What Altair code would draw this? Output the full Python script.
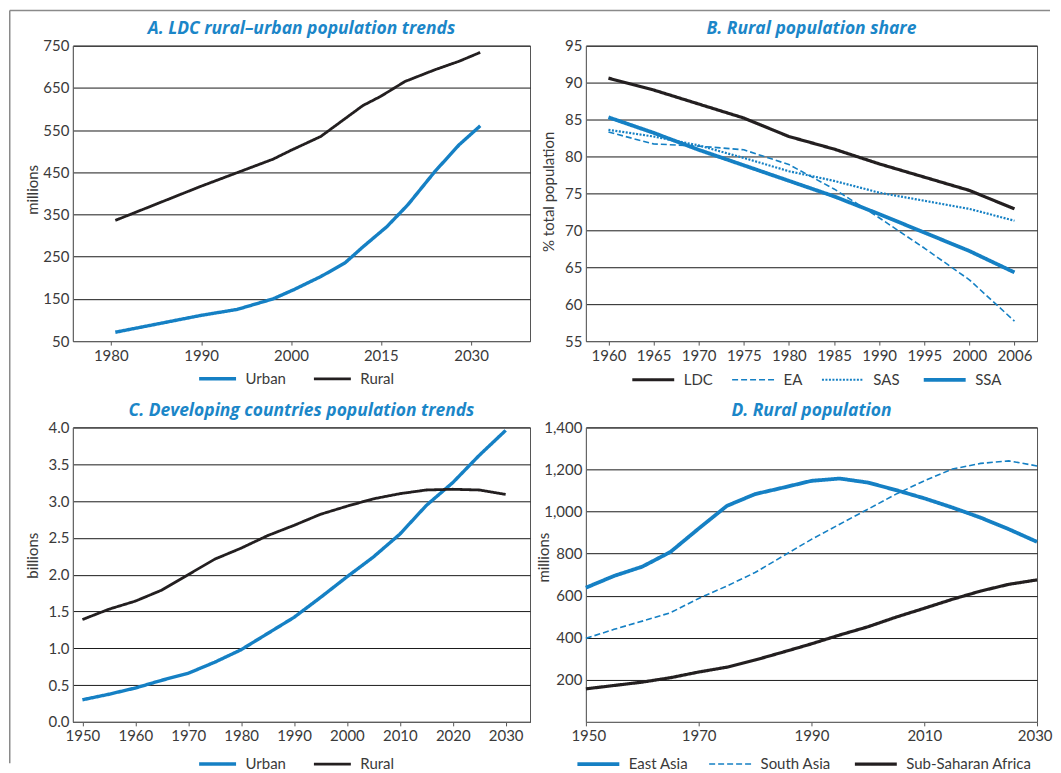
import altair as alt
import pandas as pd

BLUE = "#1580c4"
BLACK = "#231f20"
TITLE_BLUE = "#1b86c8"
TEXT = "#3a3a3a"

# ---------------- Panel A: LDC rural-urban population trends (millions)
A_URBAN_YEARS = [1980.5, 1990, 1994, 1998, 2000.5, 2005, 2009, 2012, 2016, 2019.5, 2024, 2028, 2031.5]
A_URBAN = [71, 111, 125, 150, 172, 203, 235, 273, 321, 373, 452, 515, 560]
A_RURAL_YEARS = [1980.5, 1990, 1998, 2000, 2005, 2012, 2015, 2019, 2024, 2028, 2031.5]
A_RURAL = [336, 417, 481, 502, 535, 608, 630, 665, 693, 713, 734]
A_SERIES = ["Urban", "Rural"]
A_X_TICKS = [1980, 1990, 2000, 2015, 2030]
A_Y_TICKS = [50, 150, 250, 350, 450, 550, 650, 750]

# ---------------- Panel B: Rural population share (% of total population)
B_YEARS = ["1960", "1965", "1970", "1975", "1980", "1985", "1990", "1995", "2000", "2006"]
B_LDC = [90.6, 89.0, 87.1, 85.2, 82.7, 81.0, 79.0, 77.2, 75.4, 72.9]
B_EA = [83.3, 81.7, 81.4, 80.9, 78.9, 75.6, 71.7, 67.6, 63.3, 57.7]
B_SAS = [83.6, 82.7, 81.5, 79.8, 78.0, 76.7, 75.1, 74.0, 72.9, 71.3]
B_SSA = [85.3, 83.2, 80.9, 78.8, 76.7, 74.6, 72.2, 69.7, 67.2, 64.3]
B_SERIES = ["LDC", "EA", "SAS", "SSA"]
B_Y_TICKS = [55, 60, 65, 70, 75, 80, 85, 90, 95]

# ---------------- Panel C: Developing countries population trends (billions)
C_YEARS = [1950, 1955, 1960, 1965, 1970, 1975, 1980, 1985, 1990, 1995, 2000, 2005, 2010, 2015, 2020, 2025, 2030]
C_URBAN = [0.30, 0.375, 0.46, 0.565, 0.66, 0.81, 0.98, 1.20, 1.42, 1.69, 1.97, 2.24, 2.55, 2.94, 3.25, 3.62, 3.96]
C_RURAL = [1.39, 1.53, 1.64, 1.79, 2.00, 2.21, 2.36, 2.53, 2.67, 2.82, 2.93, 3.03, 3.10, 3.15, 3.16, 3.15, 3.09]
C_SERIES = ["Urban", "Rural"]
C_X_TICKS = [1950, 1960, 1970, 1980, 1990, 2000, 2010, 2020, 2030]
C_Y_TICKS = [0.0, 0.5, 1.0, 1.5, 2.0, 2.5, 3.0, 3.5, 4.0]

# ---------------- Panel D: Rural population (millions)
D_YEARS = [1950, 1955, 1960, 1965, 1970, 1975, 1980, 1985, 1990, 1995, 2000, 2005, 2010, 2015, 2020, 2025, 2030]
D_EAST_ASIA = [638, 694, 738, 808, 919, 1027, 1083, 1114, 1146, 1157, 1138, 1102, 1063, 1019, 971, 916, 856]
D_SOUTH_ASIA = [397, 440, 479, 519, 587, 646, 710, 789, 868, 940, 1011, 1083, 1146, 1202, 1229, 1241, 1217]
D_SSA = [157, 173, 189, 210, 237, 260, 294, 332, 371, 413, 452, 498, 540, 583, 622, 654, 675]
D_SERIES = ["East Asia", "South Asia", "Sub-Saharan Africa"]
D_X_TICKS = [1950, 1970, 1990, 2010, 2030]
D_Y_TICKS = [200, 400, 600, 800, 1000, 1200, 1400]


def long_df(pairs):
    rows = []
    for name, xs, ys in pairs:
        for i, (x, y) in enumerate(zip(xs, ys)):
            rows.append({"x": x, "value": y, "series": name, "i": i})
    return pd.DataFrame(rows)


def legend(x, y, half, sym_gap, col_gap):
    h = half / 4.0
    return alt.Legend(
        orient="none", legendX=x, legendY=y, direction="horizontal", title=None,
        symbolType=f"M{-h},0H{h}", symbolSize=64,
        labelOffset=sym_gap + half - 4, columnPadding=col_gap,
        labelFont="Lato", labelFontSize=15, labelColor=TEXT, padding=0,
        symbolOpacity=1,
    )


def encodings(series, colors, widths, dashes, leg):
    return dict(
        color=alt.Color("series:N", scale=alt.Scale(domain=series, range=colors), legend=leg),
        strokeWidth=alt.StrokeWidth("series:N", scale=alt.Scale(type="ordinal", domain=series, range=widths), legend=leg),
        strokeDash=alt.StrokeDash("series:N", scale=alt.Scale(domain=series, range=dashes), legend=leg),
    )


def y_axis(values, title, tx, ty, fmt):
    return alt.Axis(values=values, title=title, titleX=tx, titleY=ty, titleAlign="center",
                    titleBaseline="middle", grid=True, ticks=False, labelPadding=4, format=fmt,
                    domainColor="#666")


def x_axis(values, fmt="d", **kw):
    return alt.Axis(values=values, format=fmt, title=None, grid=False, ticks=True, tickSize=4,
                    labelPadding=3, labelAngle=0, **kw)


def title(text, offset=1.0):
    return alt.TitleParams(text=text, offset=offset)


# ---------- Panel A
a_df = long_df([("Urban", A_URBAN_YEARS, A_URBAN), ("Rural", A_RURAL_YEARS, A_RURAL)])
a_leg = legend(137.5, 326, 18.5, 6, 22)
a_lines = alt.Chart(a_df).mark_line(strokeJoin="round").encode(
    x=alt.X("x:Q", scale=alt.Scale(domain=[1975.8, 1980, 1990, 2000, 2015, 2030, 2039.7],
                                   range=[0, 38, 128.5, 218.5, 308.5, 399, 458], nice=False, zero=False),
            axis=x_axis(A_X_TICKS)),
    y=alt.Y("value:Q", scale=alt.Scale(domain=[50, 750], nice=False, zero=False),
            axis=y_axis(A_Y_TICKS, "millions", -40, 144, "d")),
    order="i:Q",
    **encodings(A_SERIES, [BLUE, BLACK], [3.4, 2.8], [[1, 0], [1, 0]], a_leg),
)
frame_df = pd.DataFrame({"k": [0]})
frame_left = alt.Chart(frame_df).mark_rule(color="#8a8a8a", strokeWidth=1.5).encode(
    x=alt.value(-63.25), y=alt.value(-35.25), y2=alt.value(719))
frame_top = alt.Chart(frame_df).mark_rule(color="#8a8a8a", strokeWidth=1.5).encode(
    x=alt.value(-63.25), x2=alt.value(979), y=alt.value(-35.25))
panel_a = alt.layer(frame_left, frame_top, a_lines).properties(
    width=458, height=296, title=title("A. LDC rural\u2013urban population trends", -27.5))

# ---------- Panel B
b_df = long_df([("LDC", B_YEARS, B_LDC), ("EA", B_YEARS, B_EA), ("SAS", B_YEARS, B_SAS), ("SSA", B_YEARS, B_SSA)])
b_leg = legend(60, 327, 21, 6, 15)
panel_b = alt.Chart(b_df).mark_line(strokeJoin="round").encode(
    x=alt.X("x:O", sort=B_YEARS, scale=alt.Scale(type="point", padding=0.5),
            axis=alt.Axis(title=None, grid=False, ticks=True, tickSize=4, labelPadding=3, labelAngle=0)),
    y=alt.Y("value:Q", scale=alt.Scale(domain=[55, 95], nice=False, zero=False),
            axis=y_axis(B_Y_TICKS, "% total population", -37, 146, "d")),
    order="i:Q",
    **encodings(B_SERIES, [BLACK, BLUE, BLUE, BLUE], [3.2, 1.6, 2.2, 3.8],
                [[1, 0], [6, 3], [2, 1.5], [1, 0]], b_leg),
).properties(width=452, height=296, title=title("B. Rural population share"))

# ---------- Panel C
c_df = long_df([("Urban", C_YEARS, C_URBAN), ("Rural", C_YEARS, C_RURAL)])
c_leg = legend(137.5, 329.5, 18.5, 6, 22)
panel_c = alt.Chart(c_df).mark_line(strokeJoin="round").encode(
    x=alt.X("x:Q", scale=alt.Scale(domain=[1948.2, 2034.6], nice=False, zero=False), axis=x_axis(C_X_TICKS)),
    y=alt.Y("value:Q", scale=alt.Scale(domain=[0, 4], nice=False, zero=False),
            axis=y_axis(C_Y_TICKS, "billions", -40, 128, ".1f")),
    order="i:Q",
    **encodings(C_SERIES, [BLUE, BLACK], [3.4, 2.8], [[1, 0], [1, 0]], c_leg),
).properties(width=458, height=295, title=title("C. Developing countries population trends"))

# ---------- Panel D
d_df = long_df([("East Asia", D_YEARS, D_EAST_ASIA), ("South Asia", D_YEARS, D_SOUTH_ASIA),
                ("Sub-Saharan Africa", D_YEARS, D_SSA)])
d_leg = legend(5, 329.5, 21, 6, 17)
panel_d = alt.Chart(d_df).mark_line(strokeJoin="round").encode(
    x=alt.X("x:Q", scale=alt.Scale(domain=[1950, 2030], nice=False, zero=False),
            axis=x_axis(D_X_TICKS, labelFlush=True, labelFlushOffset=15)),
    y=alt.Y("value:Q", scale=alt.Scale(domain=[0, 1400], nice=False, zero=False),
            axis=y_axis(D_Y_TICKS, "millions", -42, 130, ",d")),
    order="i:Q",
    **encodings(D_SERIES, [BLUE, BLUE, BLACK], [3.8, 1.6, 3.2], [[1, 0], [6, 3], [1, 0]], d_leg),
).properties(width=452, height=295, title=title("D. Rural population"))

chart = alt.concat(
    panel_a, panel_b, panel_c, panel_d, columns=2,
    spacing=alt.RowColnumber(row=86.5, column=56), bounds="flush",
).resolve_scale(
    color="independent", strokeWidth="independent", strokeDash="independent",
).resolve_legend(
    color="independent", strokeWidth="independent", strokeDash="independent",
).properties(padding=0).configure_view(
    stroke="#555", strokeWidth=1
).configure_axis(
    labelFont="Lato", labelFontSize=15, labelColor=TEXT,
    titleFont="Lato", titleFontSize=15, titleFontWeight="normal", titleColor=TEXT,
    gridColor="#1a1a1a", gridWidth=1, gridOpacity=1, domainColor="#666", tickColor="#555",
).configure_title(
    font="Open Sans", fontSize=17.5, fontWeight="bold", fontStyle="italic",
    color=TITLE_BLUE, anchor="middle",
)

chart.save("out.html", embed_options={"renderer": "svg", "actions": False})
